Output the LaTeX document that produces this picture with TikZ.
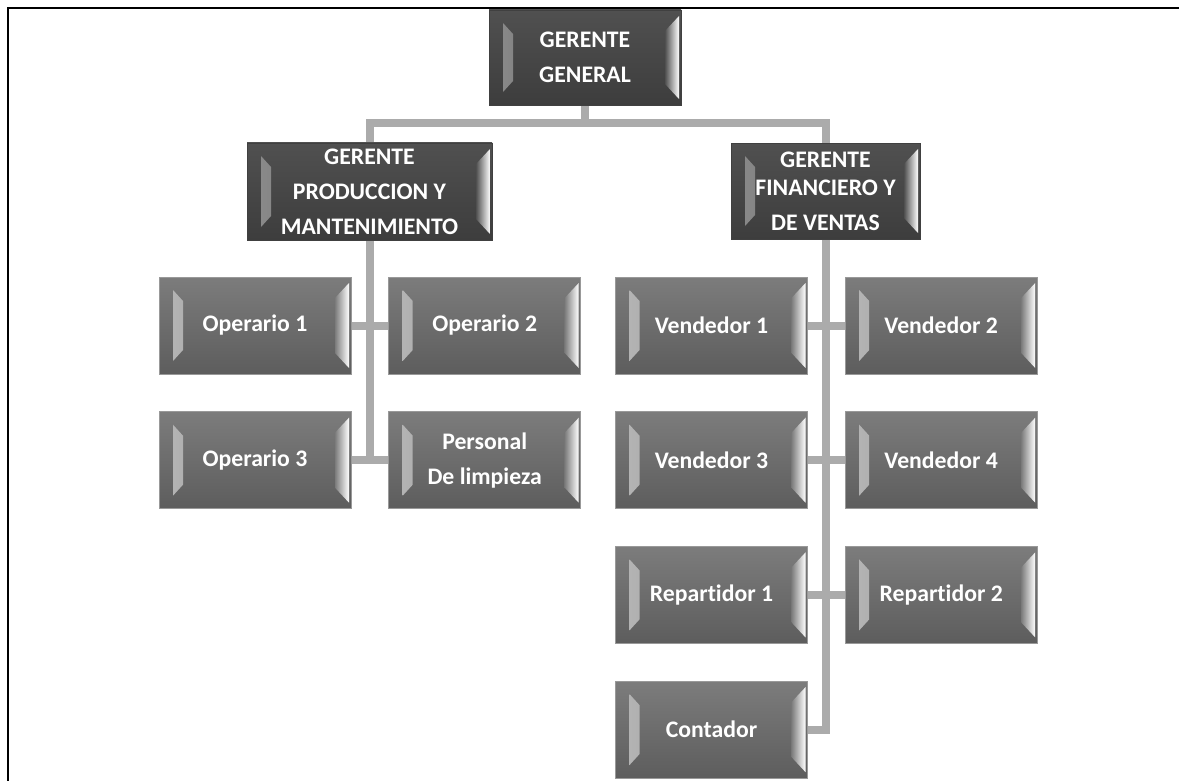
\documentclass[tikz,border=0pt]{standalone}
\usepackage{fontspec}
\setmainfont{Carlito}[Ligatures=NoCommon]
\usetikzlibrary{positioning,calc,backgrounds}
\definecolor{jefetop}{HTML}{505050}
\definecolor{jefebot}{HTML}{3D3D3D}
\definecolor{puestotop}{HTML}{7C7C7C}
\definecolor{puestobot}{HTML}{5D5D5D}
\definecolor{lineagris}{HTML}{ABABAB}

\begin{document}
\begin{tikzpicture}[
    node distance=0.74cm and 0.74cm,
    every node/.style={font=\fontsize{13.5}{20}\selectfont\bfseries, text=white},
    bisel/.style 2 args={path picture={
        \shade[left color=#1, right color=#2]
          ($(path picture bounding box.north west)+(0.28,-0.26)$) --
          ($(path picture bounding box.north west)+(0.48,-0.48)$) --
          ($(path picture bounding box.south west)+(0.48,0.48)$) --
          ($(path picture bounding box.south west)+(0.28,0.26)$) -- cycle;
        \shade[left color=#2, right color=white]
          ($(path picture bounding box.north east)+(-0.32,-0.42)$) --
          ($(path picture bounding box.north east)+(-0.04,-0.12)$) --
          ($(path picture bounding box.south east)+(-0.04,0.12)$) --
          ($(path picture bounding box.south east)+(-0.32,0.42)$) -- cycle;
      }},
    jefebox/.style={draw=black!75, top color=jefetop, bottom color=jefebot,
                    minimum width=3.84cm, minimum height=1.9cm, inner sep=0pt,
                    align=center, bisel={black!45}{jefetop}},
    puestobox/.style={draw=black!40, top color=puestotop, bottom color=puestobot,
                      minimum width=3.84cm, minimum height=1.94cm, inner sep=0pt,
                      align=center, bisel={white!72!black}{puestotop}},
    conn/.style={draw=lineagris, line width=0.16cm, line cap=rect}
  ]
  \useasboundingbox (0,0) rectangle (23.58,-15.62);
  \draw[line width=0.04cm] (0.16,-15.62) -- (0.16,-0.16) -- (23.58,-0.16);

  % Gerencia
  \node[jefebox] (gg) at (11.70,-1.15) {GERENTE\\GENERAL};
  \node[jefebox, minimum width=4.9cm, minimum height=1.94cm] (gp) at (7.39,-3.83)
    {GERENTE\\PRODUCCION Y\\MANTENIMIENTO};
  \node[jefebox, minimum width=3.78cm, minimum height=1.92cm] (gf) at (16.51,-3.82)
    {GERENTE\\[-4pt]FINANCIERO Y\\DE VENTAS};

  % Produccion
  \node[puestobox] (op1) at (5.10,-6.51) {Operario 1};
  \node[puestobox, right=of op1] (op2) {Operario 2};
  \node[puestobox, below=of op1] (op3) {Operario 3};
  \node[puestobox, below=of op2] (pl) {Personal\\De limpieza};

  % Ventas
  \node[puestobox] (v1) at (14.23,-6.51) {Vendedor 1};
  \node[puestobox, right=of v1] (v2) {Vendedor 2};
  \node[puestobox, below=of v1] (v3) {Vendedor 3};
  \node[puestobox, below=of v2] (v4) {Vendedor 4};
  \node[puestobox, below=of v3] (r1) {Repartidor 1};
  \node[puestobox, below=of v4] (r2) {Repartidor 2};
  \node[puestobox, below=of r1] (co) {Contador};

  % Lineas
  \begin{scope}[on background layer]
    \coordinate (bus) at ($(gg.south)+(0,-0.36)$);
    \draw[conn] (gg.south) -- (bus) -| (gp.north);
    \draw[conn] (bus) -| (gf.north);
    \draw[conn] (gp.south) -- (gp.south |- op3.east);
    \draw[conn] (op1) -- (op2);
    \draw[conn] (op3) -- (pl);
    \draw[conn] (gf.south) |- (co.east);
    \draw[conn] (v1) -- (v2);
    \draw[conn] (v3) -- (v4);
    \draw[conn] (r1) -- (r2);
  \end{scope}
\end{tikzpicture}
\end{document}
